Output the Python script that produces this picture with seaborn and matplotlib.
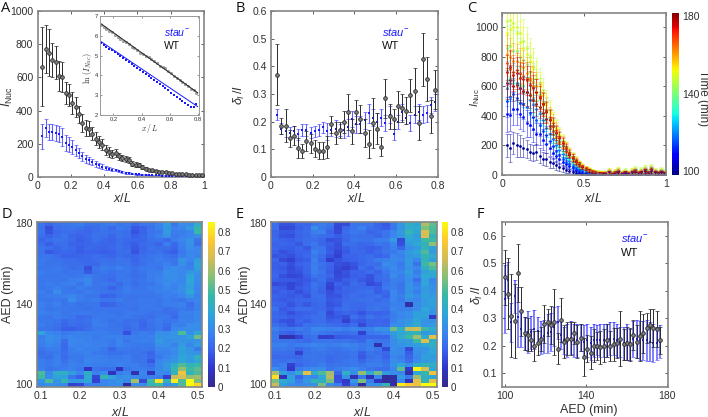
import matplotlib
matplotlib.use('Agg')
import matplotlib.pyplot as plt
from matplotlib.cm import ScalarMappable
from matplotlib.colors import LinearSegmentedColormap, Normalize
import numpy as np
import seaborn as sns
import pandas as pd

# panel A
a_x = np.arange(0.03, 1.0, 0.02)
a_wt = [665,770,750,705,690,610,605,505,495,445,420,378,325,295,290,260,230,210,195,165,150,140,145,125,115,110,105,80,75,70,60,50,42,40,38,30,30,28,25,22,20,18,16,16,15,14,12,11,10]
a_wt_err = [240,145,140,105,100,90,90,65,65,65,60,50,55,50,45,40,40,38,35,30,28,25,25,22,20,18,18,16,14,12,10,9,8,8,7,7,6,6,5,5,5,4,4,4,4,3,3,3,3]
a_st = [245,295,272,270,265,260,240,205,195,180,160,145,125,110,100,90,80,70,62,55,50,45,42,35,30,26,24,20,18,16,14,13,12,11,10,10,9,9,8,8,8,8,7,7,7,7,6,6,6]
a_st_err = [75,55,50,50,50,50,55,50,45,40,35,30,28,25,22,20,18,15,14,12,10,9,8,6,5,5,4,4,3,3,3,3,2,2,2,2,2,2,2,2,2,2,2,2,2,2,2,2,2]

# inset of A
ins_x = np.arange(0.11, 0.8, 0.02)
ins_wt = [6.55,6.42,6.35,6.25,6.17,6.05,5.95,5.85,5.76,5.68,5.57,5.45,5.36,5.28,5.15,5.1,5.0,4.95,4.85,4.75,4.65,4.5,4.42,4.35,4.2,4.1,3.95,3.85,3.75,3.65,3.55,3.45,3.3,3.25,3.1]
ins_st = [5.65,5.55,5.45,5.35,5.28,5.2,5.08,4.98,4.88,4.78,4.68,4.58,4.45,4.38,4.28,4.18,4.05,3.97,3.85,3.75,3.65,3.55,3.45,3.35,3.25,3.1,3.0,2.92,2.82,2.72,2.6,2.5,2.42,2.38,2.55]
fit_x = [0.11, 0.8]
fit_wt = [6.62, 3.12]
fit_st = [5.72, 2.42]

# panel B
b_x = np.arange(0.03, 0.8, 0.02)
b_wt = [.37,.185,.185,.14,.15,.105,.095,.13,.122,.103,.095,.095,.11,.19,.16,.17,.20,.235,.165,.235,.21,.16,.12,.195,.175,.11,.285,.22,.21,.255,.25,.24,.295,.31,.195,.425,.355,.22,.315]
b_wt_err = [.11,.03,.06,.03,.035,.035,.025,.035,.035,.03,.03,.03,.04,.03,.04,.03,.04,.065,.045,.045,.05,.05,.05,.09,.055,.035,.07,.045,.035,.055,.05,.05,.06,.085,.06,.095,.08,.06,.07]
b_st = [.225,.175,.165,.16,.165,.155,.17,.17,.16,.165,.17,.18,.165,.17,.175,.17,.17,.18,.21,.19,.19,.205,.23,.215,.2,.215,.195,.225,.155,.2,.235,.215,.195,.225,.235,.225,.23,.26,.27]
b_st_err = [.02,.02,.02,.02,.02,.02,.02,.02,.02,.02,.02,.02,.03,.02,.03,.02,.03,.03,.03,.03,.03,.03,.035,.03,.03,.03,.03,.03,.02,.025,.03,.025,.03,.03,.03,.03,.03,.03,.03]

# panel C, one list per time class
c_x = np.arange(0.03, 1.0, 0.02)
c_times = [100, 108, 114, 122, 130, 138, 146, 152, 160, 168, 176, 180]
c_100 = [200,185,215,205,195,185,175,155,150,155,130,110,105,85,80,65,55,45,35,28,22,16,12,8,6,5,4,3,3,2,2,4,1,3,6,2,5,3,8,4,2,6,10,4,14,8,4,10,6]
c_108 = [410,405,450,445,410,390,350,340,310,280,275,240,210,180,150,130,110,90,75,60,45,35,25,18,14,10,8,6,5,5,6,10,4,8,14,6,12,5,10,18,8,14,22,10,24,12,8,16,10]
c_114 = [500,530,550,520,490,480,460,420,390,370,340,300,270,230,195,160,135,110,90,72,55,42,32,24,18,14,12,10,8,8,8,14,6,12,18,8,16,6,14,24,10,18,28,14,30,16,10,20,12]
c_122 = [590,620,645,620,590,565,560,505,480,450,420,375,320,280,245,205,170,140,115,92,70,55,42,32,24,18,14,12,10,10,10,18,10,16,22,10,18,12,18,28,14,22,32,18,34,20,14,22,16]
c_130 = [640,655,625,620,610,600,560,540,520,500,460,420,370,320,275,230,195,160,130,105,85,65,50,38,28,22,16,14,12,12,14,22,12,18,26,14,20,14,22,30,16,26,36,20,38,22,16,26,18]
c_138 = [860,870,840,840,800,780,750,700,650,610,560,500,440,380,330,280,240,200,165,130,105,85,65,50,38,30,22,18,16,16,16,26,14,22,30,16,24,16,26,34,18,28,40,24,44,26,18,28,20]
c_146 = [1040,1050,1030,1000,960,910,860,800,740,680,620,560,490,430,370,320,275,235,195,160,130,105,85,66,50,40,32,26,22,20,20,30,18,26,34,20,28,20,30,38,22,32,44,26,50,30,22,34,24]
c_152 = [960,990,1000,960,900,860,820,770,720,660,600,540,475,420,365,315,270,230,190,155,125,100,80,62,48,38,30,24,20,18,18,28,16,24,32,18,26,18,28,36,20,30,42,24,46,28,20,30,22]
c_160 = [820,800,770,770,740,730,690,660,630,600,540,490,450,395,350,305,265,225,190,155,125,100,80,62,48,38,28,22,18,16,14,24,12,20,28,14,22,14,24,30,16,26,36,20,40,24,16,26,18]
c_168 = [760,720,700,710,690,670,660,640,600,560,530,480,430,380,335,290,255,220,185,150,120,95,75,58,44,34,26,20,16,14,12,20,10,16,24,12,18,12,20,26,14,22,32,16,34,20,14,22,14]
c_176 = [700,730,680,690,660,650,640,610,590,560,520,480,425,375,330,285,250,215,180,145,118,92,72,55,42,32,24,18,14,12,10,16,8,14,20,10,16,10,16,22,12,18,28,14,30,18,12,18,12]
c_180 = [620,640,600,610,590,570,560,540,510,480,460,420,380,335,300,260,225,195,165,135,110,85,68,52,40,30,22,16,12,10,8,14,6,12,18,8,14,8,14,20,10,16,24,12,26,16,10,16,10]
c_100_err = [75,95,75,80,75,65,60,55,55,55,50,45,45,35,35,30,28,22,20,15,12,10,8,6,5,5,4,3,3,3,4,5,4,5,7,4,6,5,8,6,4,7,10,6,14,10,6,10,8]
c_108_err = [120,110,110,105,100,95,90,85,85,75,75,70,60,50,45,40,35,30,25,20,18,14,12,10,8,7,6,5,5,5,6,8,5,7,10,6,9,6,9,12,7,10,14,9,16,11,8,12,9]
c_114_err = [110,110,110,105,100,100,95,90,85,80,75,70,60,55,50,42,36,30,26,22,18,15,12,10,8,7,7,6,6,6,7,10,6,9,12,7,10,7,10,14,8,12,16,10,18,12,9,14,10]
c_122_err = [120,120,115,115,110,105,105,100,95,90,85,75,65,60,55,48,40,34,30,25,20,17,14,12,10,8,7,7,7,7,8,12,8,10,14,8,12,9,12,16,10,14,18,12,20,14,10,15,11]
c_130_err = [130,125,120,120,115,110,105,100,100,95,90,80,75,65,58,50,44,36,30,26,22,18,15,12,10,9,8,8,8,8,10,14,9,12,16,10,14,10,14,18,11,16,20,13,22,15,11,16,12]
c_138_err = [150,145,140,135,130,125,120,115,110,105,95,85,78,70,62,55,48,40,34,28,24,20,17,14,12,10,9,9,9,9,11,16,10,14,18,11,15,11,16,20,12,17,22,15,24,16,12,18,13]
c_146_err = [170,165,160,155,150,145,140,130,120,110,105,95,85,75,68,60,52,45,38,32,27,22,19,16,14,12,11,10,10,10,13,18,12,16,20,13,17,13,18,22,14,19,24,16,26,18,14,20,15]
c_152_err = [160,155,150,150,145,140,135,125,115,110,100,90,80,72,64,56,50,44,36,30,25,21,18,15,13,12,10,10,9,9,12,17,11,15,19,12,16,12,17,21,13,18,23,15,25,17,13,18,14]
c_160_err = [130,130,125,120,120,115,110,105,100,100,90,85,75,68,62,54,48,40,34,28,24,20,16,14,12,10,9,9,8,8,10,15,9,13,17,10,14,10,15,18,11,16,20,13,22,15,11,16,12]
c_168_err = [120,120,115,115,110,110,105,100,95,90,85,80,72,65,58,50,45,38,32,27,22,18,15,13,11,9,8,8,7,7,9,13,8,11,15,9,12,9,13,16,10,14,18,11,20,13,10,14,10]
c_176_err = [115,115,110,110,105,105,100,95,90,90,85,78,70,62,56,48,42,36,30,25,21,17,14,12,10,9,8,7,7,6,8,11,7,10,13,8,11,8,11,14,9,12,16,10,18,12,9,12,9]
c_180_err = [105,105,100,100,95,95,90,85,85,80,75,70,62,55,50,44,38,32,28,23,19,16,13,11,9,8,7,6,6,5,7,10,6,9,12,7,10,7,10,13,8,11,14,9,16,11,8,11,8]

# panels D and E, rows run from AED 180 down to 100, values are in hundredths
heat_columns = [0.10,0.12,0.14,0.16,0.18,0.20,0.22,0.24,0.26,0.28,0.30,0.32,0.34,0.36,0.38,0.40,0.42,0.44,0.46,0.48,0.50]
heat_rows = list(range(180, 98, -2))
d_cells = [
[24,20,23,24,25,26,24,23,25,26,24,25,21,24,25,27,35,24,30,30,40],
[23,15,22,23,24,23,21,22,24,21,25,24,17,19,23,27,33,27,28,34,46],
[24,16,21,22,22,21,20,22,23,22,23,22,16,19,24,25,34,26,26,28,47],
[22,19,22,24,20,19,21,23,22,20,23,22,18,20,24,27,31,25,27,28,31],
[20,22,24,23,21,18,20,23,21,19,22,21,20,20,23,24,21,26,28,32,24],
[22,18,22,22,19,19,20,21,20,20,22,20,18,21,22,20,26,21,27,32,22],
[24,22,20,22,21,18,21,20,19,21,23,21,17,20,23,22,22,20,26,30,28],
[23,17,19,21,20,18,19,19,18,19,22,22,16,21,22,23,20,18,25,28,28],
[24,24,22,19,19,20,21,22,21,20,22,21,20,22,24,25,23,22,26,29,27],
[25,24,23,22,22,21,21,22,23,22,24,23,20,23,24,26,25,24,33,28,35],
[25,23,24,23,22,22,21,21,24,23,24,24,21,22,25,25,27,24,31,26,37],
[24,24,25,24,22,23,15,24,26,25,27,25,23,25,25,24,28,30,28,27,36],
[26,25,25,23,24,24,17,23,25,23,24,25,22,24,26,26,30,30,29,33,33],
[25,24,24,25,24,25,26,24,23,22,25,24,22,23,26,27,30,30,29,37,30],
[24,25,25,24,26,27,29,24,23,21,25,25,23,24,26,28,29,30,28,38,30],
[25,26,25,26,27,24,28,24,25,24,21,25,22,24,24,27,30,28,29,37,29],
[24,25,27,25,24,26,25,24,23,19,23,26,24,24,26,26,29,27,31,36,28],
[26,24,30,25,25,24,26,25,24,23,24,26,25,25,25,27,27,28,30,38,29],
[25,26,26,27,28,26,24,24,19,20,23,24,23,24,24,25,27,26,28,33,27],
[25,24,25,24,30,26,25,26,24,24,26,24,24,25,25,24,26,25,24,27,28],
[27,25,27,24,25,23,24,24,19,20,23,24,24,25,25,24,26,26,27,22,27],
[26,24,25,25,24,24,23,24,24,24,24,24,23,25,25,25,22,24,25,24,27],
[27,26,26,24,25,25,25,24,25,24,23,25,25,25,23,24,23,22,27,27,29],
[25,24,26,25,24,21,22,25,25,25,24,25,24,23,22,25,25,21,26,26,28],
[25,25,24,21,23,22,23,26,25,23,25,22,23,21,24,26,24,25,27,27,29],
[26,24,23,20,22,21,22,26,26,24,23,22,24,20,23,25,22,27,26,30,30],
[24,24,22,18,18,20,22,25,25,24,24,21,23,21,23,25,21,28,30,30,30],
[37,28,27,25,26,27,26,26,26,25,25,15,25,26,25,31,30,33,50,31,38],
[26,30,29,27,28,27,27,25,26,27,27,26,26,26,27,32,32,32,32,36,54],
[27,30,28,22,29,28,27,26,26,25,28,24,26,27,26,34,30,31,32,32,33],
[26,28,27,21,28,27,28,27,27,25,28,26,25,25,25,31,31,27,35,28,35],
[24,26,26,21,26,28,27,27,25,20,25,25,24,25,24,28,28,30,36,33,25],
[22,24,25,22,26,26,27,25,25,23,23,24,24,23,20,27,27,29,36,33,32],
[23,22,26,21,25,25,27,27,26,25,25,26,23,24,21,25,28,31,37,35,43],
[26,25,27,23,26,25,28,27,27,26,26,26,24,24,17,28,31,33,38,34,38],
[26,25,27,25,27,26,27,26,26,26,27,26,26,24,22,29,34,42,50,44,47],
[27,24,25,26,27,25,9,24,22,23,8,24,26,26,25,29,33,46,58,48,52],
[50,29,41,42,35,28,41,27,30,8,26,28,6,29,8,30,28,44,72,44,50],
[48,30,37,36,24,18,40,13,45,37,30,32,29,27,27,26,12,65,68,58,60],
[32,50,32,46,34,34,38,12,28,30,33,29,60,14,48,80,42,82,50,85,55],
[29,32,30,29,12,13,26,27,28,30,30,3,31,30,45,48,30,36,50,85,78],
]
e_cells = [
[22,16,16,20,20,24,26,24,14,14,24,24,24,20,17,25,33,42,38,62,52],
[22,14,14,18,21,31,25,22,13,20,24,27,22,20,18,24,33,40,40,56,50],
[20,17,17,20,22,26,27,19,14,22,25,24,20,21,24,28,34,46,38,68,50],
[20,16,15,19,21,24,22,21,18,21,23,22,22,20,24,28,33,40,35,68,44],
[21,19,18,20,22,22,20,15,16,20,24,23,23,26,26,35,14,38,36,48,48],
[19,20,19,17,22,25,20,18,15,22,22,20,21,24,23,28,15,34,39,44,58],
[20,18,18,20,17,24,24,17,15,18,21,20,18,19,23,27,20,30,34,44,36],
[18,15,17,19,19,27,24,18,13,17,21,21,18,21,24,25,28,34,38,50,34],
[16,17,15,18,21,25,22,16,12,19,19,21,22,19,21,28,27,33,35,45,40],
[20,14,12,17,18,27,20,11,16,18,19,21,22,26,27,29,28,34,28,44,36],
[18,19,15,19,21,26,23,20,15,14,16,20,22,22,30,28,25,34,23,48,55],
[18,17,14,17,20,27,22,19,14,12,15,22,19,24,27,30,26,32,28,42,50],
[19,18,15,16,20,26,24,18,13,16,19,19,22,19,25,28,28,35,26,36,40],
[20,15,13,14,18,24,22,20,14,15,18,19,16,21,23,30,26,32,28,39,38],
[18,17,17,16,17,20,23,17,15,18,20,17,15,21,22,27,26,30,22,37,28],
[14,15,13,15,18,24,21,13,19,17,22,20,14,16,24,26,24,32,26,38,30],
[18,17,13,17,19,23,20,12,17,20,20,21,21,18,25,26,24,33,28,34,32],
[17,19,18,15,18,22,19,15,18,19,21,22,23,18,21,29,25,32,26,35,32],
[19,18,17,18,16,22,22,16,16,20,22,21,22,23,19,28,26,34,30,36,34],
[18,17,18,20,20,21,22,17,18,21,22,23,23,21,23,28,25,30,28,34,36],
[20,19,16,19,17,20,21,16,17,22,21,21,22,23,24,27,27,5,30,34,36],
[23,17,19,22,22,21,21,17,21,22,21,20,23,24,22,28,27,27,30,38,34],
[20,18,15,18,19,20,23,14,18,20,19,16,20,19,20,26,29,30,36,36,32],
[21,20,18,19,21,22,22,16,17,15,23,19,24,21,22,26,28,30,36,36,10],
[19,16,15,20,18,22,22,18,19,12,18,17,20,20,19,27,31,33,38,32,32],
[22,20,16,18,23,23,24,22,21,19,22,14,20,21,20,30,30,36,40,32,34],
[27,24,24,26,24,28,28,27,28,26,28,26,27,32,32,54,42,64,66,48,40],
[24,20,18,22,24,26,25,23,22,22,24,12,25,26,28,35,38,42,45,33,36],
[25,5,6,13,22,23,12,12,17,18,18,19,20,20,20,32,40,48,60,40,70],
[24,24,24,22,21,24,24,24,23,24,22,20,26,24,24,30,34,34,48,68,42],
[26,27,25,26,27,28,27,26,27,28,27,25,26,6,25,30,32,34,35,38,42],
[24,25,24,20,23,25,26,24,23,25,26,24,27,24,14,30,28,14,32,32,38],
[22,22,22,12,23,24,24,23,22,23,24,18,24,22,20,30,29,18,30,34,38],
[20,21,21,20,24,24,23,21,22,22,24,17,22,24,19,28,26,20,28,36,34],
[23,22,24,22,23,24,24,21,22,24,25,20,24,25,22,30,28,22,30,34,36],
[24,26,12,20,23,24,26,23,24,24,25,24,26,26,24,32,38,30,42,44,42],
[30,26,10,26,28,30,30,24,26,28,30,27,24,22,22,28,52,10,84,68,38],
[62,36,30,40,70,42,50,60,20,42,30,58,40,54,34,30,28,5,38,46,72],
[80,8,36,20,30,28,38,62,15,32,6,25,7,28,3,4,35,25,60,42,38],
[55,40,36,26,34,45,42,55,16,10,34,55,26,8,3,4,28,8,70,45,70],
[65,36,30,28,30,32,55,30,26,12,26,2,30,32,45,4,82,76,72,85,85],
]

# panel F
f_x = np.linspace(100, 176.5, 48)
f_wt = [.45,.39,.31,.29,.465,.325,.245,.24,.22,.2,.21,.225,.28,.285,.275,.285,.19,.295,.215,.225,.225,.245,.215,.23,.16,.19,.175,.2,.2,.195,.2,.22,.2,.205,.21,.225,.205,.21,.205,.24,.215,.235,.245,.265,.275,.265,.262,.22]
f_wt_err = [.1,.13,.15,.135,.105,.09,.06,.06,.04,.055,.045,.045,.07,.05,.07,.12,.055,.08,.06,.06,.06,.04,.06,.05,.07,.05,.06,.06,.05,.06,.06,.06,.055,.06,.055,.1,.055,.06,.06,.055,.06,.09,.07,.055,.06,.07,.065,.05]
f_st = [.37,.44,.285,.38,.305,.26,.245,.25,.25,.26,.255,.23,.235,.245,.25,.27,.285,.24,.22,.22,.23,.22,.22,.23,.215,.22,.21,.22,.22,.22,.22,.22,.225,.225,.22,.215,.21,.215,.205,.225,.225,.22,.22,.22,.215,.21,.21,.215]
f_st_err = [.125,.065,.07,.06,.11,.065,.06,.075,.06,.07,.05,.06,.06,.07,.07,.07,.06,.05,.05,.06,.06,.06,.06,.05,.06,.06,.06,.06,.055,.06,.06,.06,.06,.06,.06,.055,.06,.065,.055,.065,.07,.07,.07,.075,.07,.07,.06,.06]

W, H = 708, 417
BLUE = '#1a1aff'
DARK = '#2a2a2a'
SPINE = '#858585'
TXT = '#303030'
parula = LinearSegmentedColormap.from_list('parula', ['#352a87','#3035c8','#3a62ea','#3a86ee','#2ea6d8','#35b8a8','#87bf77','#d1bb59','#fec832','#f9fb0e'])

sns.set_style('white')
plt.rcParams['font.family'] = ['Liberation Sans', 'DejaVu Sans']
plt.rcParams['mathtext.fontset'] = 'custom'
plt.rcParams['mathtext.rm'] = 'Liberation Sans'
plt.rcParams['mathtext.it'] = 'Liberation Sans:italic'
plt.rcParams['mathtext.bf'] = 'Liberation Sans:bold'
plt.rcParams['xtick.bottom'] = True
plt.rcParams['ytick.left'] = True


# axes box from pixel edges of the reference
def box(fig, left, top, right, bottom):
    return fig.add_axes([left / W, 1 - bottom / H, (right - left) / W, (bottom - top) / H])


def style(ax, size=7.5):
    for s in ax.spines.values():
        s.set_color(SPINE)
        s.set_linewidth(1.2)
        s.set_visible(True)
    ax.tick_params(direction='in', top=True, right=True, length=2, width=0.6, color='#444444',
                   labelsize=size, labelcolor=TXT, pad=3)


def points(ax, x, y, err, kind, blue_width=0.8):
    if kind == 'wt':
        ax.errorbar(x, y, yerr=err, fmt='none', ecolor=DARK, elinewidth=0.7, capsize=1.2, capthick=0.5, zorder=3)
        sns.scatterplot(x=x, y=y, ax=ax, marker='o', s=7, color='#808080', edgecolor='#2a2a2a', linewidth=0.6, zorder=4)
    else:
        ax.errorbar(x, y, yerr=err, fmt='none', ecolor=BLUE, elinewidth=blue_width, capsize=1.2, capthick=0.5, alpha=0.7, zorder=2)
        sns.scatterplot(x=x, y=y, ax=ax, marker='s', s=4, color=BLUE, linewidth=0, zorder=3)


def legend_text(ax, x1, y1, y2, size=8):
    ax.text(x1, y1, r'$\mathit{stau}^{-}$', color=BLUE, fontsize=size, transform=ax.transAxes, va='center')
    ax.text(x1, y2, 'WT', color='#111111', fontsize=size, transform=ax.transAxes, va='center')


def xlab(fig, x, y, text):
    fig.text(x / W, 1 - y / H, text, fontsize=9, color=TXT, ha='center', va='center')


def ylab(fig, x, y, text, size=9):
    fig.text(x / W, 1 - y / H, text, fontsize=size, color=TXT, ha='center', va='center', rotation=90)


fig = plt.figure(figsize=(7.08, 4.17), dpi=100)

# A
ax = box(fig, 37.5, 11, 204, 177)
points(ax, a_x, a_st, a_st_err, 'st')
points(ax, a_x, a_wt, a_wt_err, 'wt')
ax.set_xlim(0, 1)
ax.set_ylim(0, 1000)
ax.set_xticks([0, 0.2, 0.4, 0.6, 0.8, 1], ['0', '0.2', '0.4', '0.6', '0.8', '1'])
ax.set_yticks([0, 200, 400, 600, 800, 1000])
style(ax)

ins = box(fig, 100, 16, 198.5, 115)
sns.lineplot(x=fit_x, y=fit_wt, ax=ins, color='#222222', lw=0.7)
sns.lineplot(x=fit_x, y=fit_st, ax=ins, color=BLUE, lw=0.7)
sns.scatterplot(x=ins_x, y=ins_wt, ax=ins, marker='o', s=3, color='#aaaaaa', edgecolor='#666666', linewidth=0.3)
sns.scatterplot(x=ins_x, y=ins_st, ax=ins, marker='s', s=1, color=BLUE, linewidth=0)
ins.set_xlim(0.105, 0.805)
ins.set_ylim(2, 7)
ins.set_xticks([0.2, 0.4, 0.6, 0.8])
ins.set_yticks([2, 3, 4, 5, 6, 7])
style(ins, 4.2)
ins.tick_params(length=1.2, width=0.4, pad=1.2)
for s in ins.spines.values():
    s.set_linewidth(0.7)
    s.set_color('#999999')
ins.text(0.65, 0.84, r'$\mathit{stau}^{-}$', color=BLUE, fontsize=7.5, transform=ins.transAxes, va='center')
ins.text(0.65, 0.70, 'WT', color='#111111', fontsize=7.5, transform=ins.transAxes, va='center')
ins.text(-0.125, 0.47, r'$\ln\,(I_{Nuc})$', fontsize=6, math_fontfamily='cm', rotation=90, ha='center', va='center',
         transform=ins.transAxes, color=TXT)
ins.text(0.5, -0.14, r'$x\,/\,L$', fontsize=5.5, math_fontfamily='cm', ha='center', va='center',
         transform=ins.transAxes, color=TXT)

# B
ax = box(fig, 271, 11, 437.5, 177)
points(ax, b_x, b_st, b_st_err, 'st')
points(ax, b_x, b_wt, b_wt_err, 'wt')
ax.set_xlim(0, 0.8)
ax.set_ylim(0, 0.6)
ax.set_xticks([0, 0.2, 0.4, 0.6, 0.8], ['0', '0.2', '0.4', '0.6', '0.8'])
ax.set_yticks([0, 0.1, 0.2, 0.3, 0.4, 0.5, 0.6], ['0', '0.1', '0.2', '0.3', '0.4', '0.5', '0.6'])
style(ax)
legend_text(ax, 0.665, 0.875, 0.79)

# C
ax = box(fig, 502, 12.5, 666, 175)
c_means = [c_100, c_108, c_114, c_122, c_130, c_138, c_146, c_152, c_160, c_168, c_176, c_180]
c_errs = [c_100_err, c_108_err, c_114_err, c_122_err, c_130_err, c_138_err, c_146_err, c_152_err, c_160_err, c_168_err, c_176_err, c_180_err]
time_norm = Normalize(98, 182)
jet = plt.get_cmap('jet')
# light classes first, so the blue and red ones stay on top as in the original
draw_order = [4, 5, 6, 7, 3, 8, 2, 9, 1, 10, 11, 0]
for i in draw_order:
    col = jet(time_norm(c_times[i]))
    ax.errorbar(c_x, c_means[i], yerr=c_errs[i], fmt='none', ecolor=col, elinewidth=0.6, capsize=1.3, capthick=0.5, alpha=0.55)
    sns.scatterplot(x=c_x, y=c_means[i], ax=ax, marker='o', s=4, color=col, linewidth=0)
ax.set_xlim(0, 1)
ax.set_ylim(0, 1100)
ax.set_xticks([0, 0.5, 1], ['0', '0.5', '1'])
ax.set_yticks([0, 200, 400, 600, 800, 1000])
style(ax)

cax = box(fig, 672, 12.5, 679, 175)
cb = fig.colorbar(ScalarMappable(norm=time_norm, cmap=jet), cax=cax)
cb.set_ticks([100, 140, 180])
cb.ax.tick_params(length=0, labelsize=7.5, labelcolor=TXT, pad=2)
cb.outline.set_visible(False)
fig.text(703 / W, 1 - 98 / H, 'Time (min)', rotation=270, fontsize=8.5, color=TXT, ha='center', va='center')


# D and E
def heat(left, right, cb_left, cb_right, cells):
    ax = box(fig, left, 222, right, 387)
    cax = box(fig, cb_left, 222, cb_right, 387)
    frame = pd.DataFrame(np.array(cells) / 100, index=heat_rows, columns=heat_columns)
    sns.heatmap(frame, ax=ax, cbar_ax=cax, cmap=parula, vmin=0, vmax=0.85)
    ax.set_xticks([0.5, 5.5, 10.5, 15.5, 20.5], ['0.1', '0.2', '0.3', '0.4', '0.5'], rotation=0)
    ax.set_yticks([0.5, 20.5, 40.5], ['180', '140', '100'], rotation=0)
    ax.set_xlabel('')
    ax.set_ylabel('')
    style(ax)
    cax.set_yticks([0, 0.1, 0.2, 0.3, 0.4, 0.5, 0.6, 0.7, 0.8], ['0', '0.1', '0.2', '0.3', '0.4', '0.5', '0.6', '0.7', '0.8'])
    cax.tick_params(length=0, labelsize=7, labelcolor=TXT, pad=2)
    return ax


heat(37, 202, 208, 214.5, d_cells)
heat(271, 437, 442, 448, e_cells)

# F
ax = box(fig, 501.5, 222, 668, 387)
points(ax, f_x, f_st, f_st_err, 'st', blue_width=1.1)
points(ax, f_x, f_wt, f_wt_err, 'wt')
ax.set_xlim(98.4, 180.5)
ax.set_ylim(0.05, 0.65)
ax.set_xticks([100, 140, 180])
ax.set_yticks([0.1, 0.2, 0.3, 0.4, 0.5, 0.6], ['0.1', '0.2', '0.3', '0.4', '0.5', '0.6'])
style(ax)
legend_text(ax, 0.72, 0.90, 0.815)

# axis titles and panel letters
xlab(fig, 122, 199, r'$\mathit{x/L}$')
xlab(fig, 356, 199, r'$\mathit{x/L}$')
xlab(fig, 593, 199, r'$\mathit{x/L}$')
xlab(fig, 120, 412, r'$\mathit{x/L}$')
xlab(fig, 362, 412, r'$\mathit{x/L}$')
xlab(fig, 589, 410, 'AED (min)')
ylab(fig, 7, 97, r'$I_{\mathrm{Nuc}}$')
ylab(fig, 239, 95, r'$\delta_I\,/I$')
ylab(fig, 475, 98, r'$I_{\mathrm{Nuc}}$', 8)
ylab(fig, 8, 294, 'AED (min)')
ylab(fig, 245, 294, 'AED (min)')
ylab(fig, 477, 295, r'$\delta_I\,/I$')
for letter, lx, ly in [('A', 6, 8), ('B', 240, 8), ('C', 472, 8), ('D', 7, 215), ('E', 240, 215), ('F', 480, 215)]:
    fig.text(lx / W, 1 - ly / H, letter, fontsize=10.5, family='Open Sans', color='#111111', ha='center', va='center')

fig.savefig('out.png', dpi=100)
